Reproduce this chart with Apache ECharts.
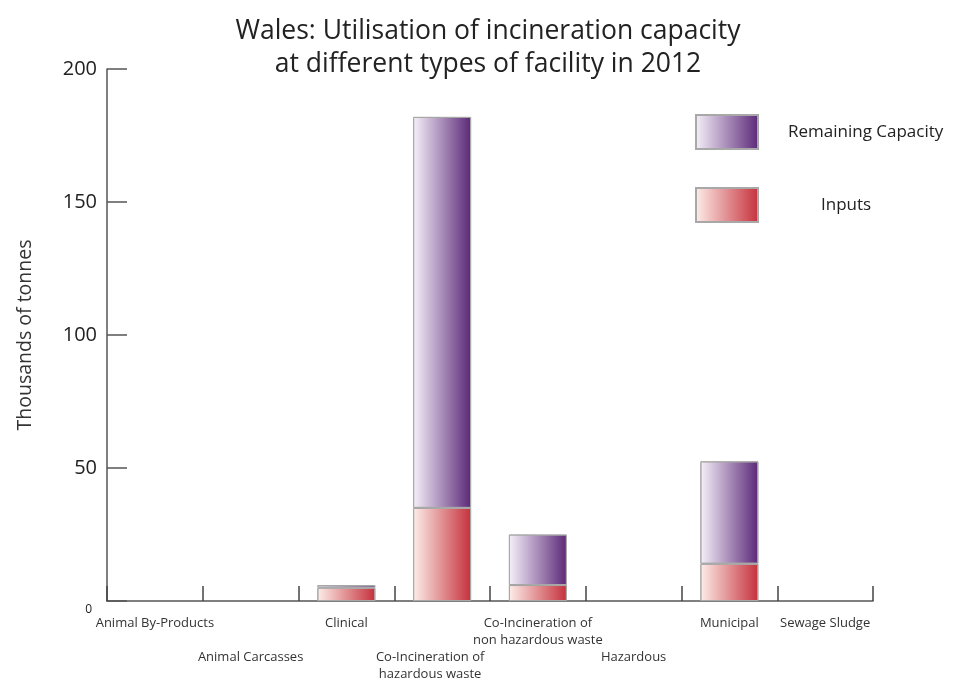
<!DOCTYPE html>
<html lang="en">
<head>
    <meta charset="UTF-8">
    <title>Wales: Utilisation of incineration capacity</title>
    <script src="https://cdn.jsdelivr.net/npm/echarts@6.0.0/dist/echarts.min.js"></script>
    <style>
        body { margin: 0; background: #fff; }
        #main { width: 956px; height: 680px; }
    </style>
</head>
<body>
    <div id="main"></div>
    <script type="text/javascript">
        // categories and values (thousands of tonnes)
        const facilities = ['Animal By-Products', 'Animal Carcasses', 'Clinical',
            'Co-Incineration of\nhazardous waste', 'Co-Incineration of\nnon hazardous waste',
            'Hazardous', 'Municipal', 'Sewage Sludge'];
        const inputs = [0, 0, 5, 35, 6, 0, 14, 0];
        const remaining = [0, 0, 1, 147, 19, 0, 38.5, 0];
        const yTicks = [0, 50, 100, 150, 200];
        // which labels sit on the lower row
        const lowRow = [false, true, false, true, false, true, false, false];

        function grad(light, dark) {
            return new echarts.graphic.LinearGradient(0, 0, 1, 0, [
                { offset: 0, color: light },
                { offset: 1, color: dark }
            ]);
        }
        const purple = grad('#f6f1f9', '#5b2878');
        const red = grad('#fdeee9', '#c5303b');
        // empty facilities draw nothing
        const bars = arr => arr.map(v => v === 0 ? '-' : v);

        // the hazardous waste label sits a bit left of its slot
        const catData = facilities.map((f, i) => i === 3
            ? { value: f, textStyle: { padding: [0, 24, 0, 0] } }
            : f);

        const font = 'Open Sans';
        var chart = echarts.init(document.getElementById('main'));
        var option = {
            textStyle: { fontFamily: font },
            title: {
                text: 'Wales: Utilisation of incineration capacity\nat different types of facility in 2012',
                left: 483,
                textAlign: 'center',
                top: 10,
                textStyle: { fontSize: 26.5, fontWeight: 'normal', color: '#222', lineHeight: 33, fontFamily: font }
            },
            legend: [
                {
                    data: ['Remaining Capacity'],
                    icon: 'rect',
                    left: 690, top: 109,
                    itemWidth: 62, itemHeight: 34,
                    textStyle: { fontSize: 17, color: '#222', padding: [0, 0, 0, 25] }
                },
                {
                    data: ['Inputs'],
                    icon: 'rect',
                    left: 690, top: 182,
                    itemWidth: 62, itemHeight: 34,
                    textStyle: { fontSize: 17, color: '#222', padding: [0, 0, 0, 58] }
                }
            ],
            grid: { left: 107, right: 83, top: 69, bottom: 79, outerBoundsMode: 'none' },
            xAxis: {
                type: 'category',
                data: catData,
                axisLine: { lineStyle: { color: '#555', width: 1.5 } },
                axisTick: { show: true, inside: true, length: 15, lineStyle: { color: '#444', width: 1.5 } },
                axisLabel: {
                    interval: 0,
                    margin: 14,
                    fontSize: 13,
                    lineHeight: 17,
                    color: '#333',
                    formatter: (v, i) => (lowRow[i] ? '\n\n' : '') + v
                }
            },
            yAxis: {
                type: 'value',
                min: yTicks[0],
                max: yTicks[yTicks.length - 1],
                interval: 50,
                name: 'Thousands of tonnes',
                nameLocation: 'middle',
                nameGap: 72,
                nameTextStyle: { fontSize: 19.5, color: '#333' },
                splitLine: { show: false },
                axisLine: { show: true, lineStyle: { color: '#555', width: 1.5 } },
                axisTick: { show: true, inside: true, length: 20, lineStyle: { color: '#555', width: 1.5 } },
                axisLabel: {
                    margin: 10,
                    fontSize: 20,
                    color: '#222',
                    formatter: v => v === 0 ? '{s|0}' : String(v),
                    rich: { s: { fontSize: 12, padding: [17, 5, 0, 0], color: '#222' } }
                }
            },
            series: [
                {
                    name: 'Inputs',
                    type: 'bar',
                    stack: 'total',
                    barWidth: 58,
                    data: bars(inputs),
                    itemStyle: { color: red, borderColor: '#a8a8a8', borderWidth: 1 }
                },
                {
                    name: 'Remaining Capacity',
                    type: 'bar',
                    stack: 'total',
                    barWidth: 58,
                    data: bars(remaining),
                    itemStyle: { color: purple, borderColor: '#a8a8a8', borderWidth: 1 }
                }
            ]
        };
        chart.setOption(option);
    </script>
</body>
</html>
